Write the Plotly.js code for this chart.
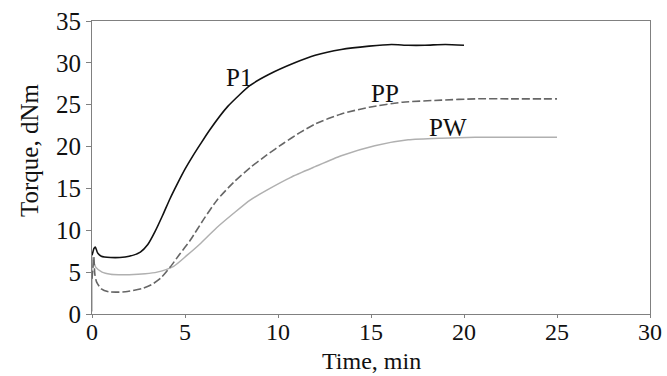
<!DOCTYPE html>
<html>
<head>
<meta charset="utf-8">
<script src="https://cdn.plot.ly/plotly-3.0.1.min.js"></script>
<style>html,body{margin:0;padding:0;background:#fff;}#chart{width:667px;height:376px;}</style>
</head>
<body>
<div id="chart"></div>
<script>
// Time (min) and torque (dNm)
const p1Time = [0, 0.05, 0.1, 0.18, 0.3, 0.5, 1.0, 1.5, 2.0, 2.6, 3.0, 3.4, 3.8, 4.2, 4.6, 5.0, 5.4, 5.8, 6.3, 7.3, 8.5, 9.5, 10.9, 12.0, 13.4, 14.9, 16.1, 17.0, 17.9, 19.0, 20.0];
const p1Torque = [7.0, 7.4, 7.8, 8.0, 7.3, 6.9, 6.75, 6.75, 6.9, 7.4, 8.3, 9.9, 11.8, 13.8, 15.6, 17.3, 18.8, 20.2, 21.9, 24.8, 27.3, 28.6, 30.0, 30.9, 31.6, 32.0, 32.2, 32.1, 32.1, 32.2, 32.1];

const ppTime = [0, 0.05, 0.1, 0.15, 0.25, 0.5, 0.9, 1.8, 2.7, 3.2, 3.7, 4.2, 4.7, 5.28, 6.0, 6.72, 7.6, 8.51, 9.4, 10.3, 11.2, 12.0, 13.4, 14.9, 16.7, 18.8, 20.6, 22.5, 25.0];
const ppTorque = [4.2, 5.5, 6.8, 4.8, 3.8, 3.0, 2.65, 2.65, 3.05, 3.5, 4.3, 5.6, 7.1, 8.8, 11.3, 13.6, 15.7, 17.5, 19.0, 20.4, 21.7, 22.7, 23.9, 24.7, 25.3, 25.55, 25.7, 25.7, 25.7];

const pwTime = [0, 0.03, 0.1, 0.2, 0.54, 1.0, 1.43, 2.0, 2.86, 3.5, 4.39, 5.1, 5.82, 6.7, 7.6, 8.5, 9.4, 10.66, 12.0, 13.4, 15.2, 17.0, 18.8, 20.6, 22.5, 25.0];
const pwTorque = [0.3, 6.8, 6.2, 5.6, 5.0, 4.75, 4.7, 4.7, 4.8, 5.0, 5.7, 7.0, 8.4, 10.3, 12.0, 13.6, 14.8, 16.3, 17.6, 18.9, 20.1, 20.8, 21.0, 21.1, 21.1, 21.1];

const seriesNames = ['P1', 'PP', 'PW'];
const labelX = [7.92, 15.77, 19.16];
const labelY = [28.3, 26.3, 22.3];
const xTickVals = [0, 5, 10, 15, 20, 25, 30];
const xTickText = ['0', '5', '10', '15', '20', '25', '30'];
const yTickVals = [0, 5, 10, 15, 20, 25, 30, 35];
const xTitle = 'Time, min';
const yTitle = 'Torque, dNm';

const font = 'Liberation Serif';

const traces = [
  {x: pwTime, y: pwTorque, name: 'PW', mode: 'lines', line: {color: '#b0b0b0', width: 1.5, shape: 'spline', smoothing: 0.6}},
  {x: ppTime, y: ppTorque, name: 'PP', mode: 'lines', line: {color: '#666666', width: 1.6, dash: '8px,3px', shape: 'spline', smoothing: 0.6}},
  {x: p1Time, y: p1Torque, name: 'P1', mode: 'lines', line: {color: '#111111', width: 1.6, shape: 'spline', smoothing: 0.6}}
];

const annotations = seriesNames.map((n, i) => ({
  x: labelX[i], y: labelY[i], xref: 'x', yref: 'y', text: n, showarrow: false,
  font: {family: font, size: 25, color: '#111'}
}));
xTickVals.forEach((v, i) => annotations.push({
  x: v, y: 0, xref: 'x', yref: 'paper', xanchor: 'center', yanchor: 'middle', yshift: -18,
  text: xTickText[i], showarrow: false, borderpad: 0, font: {family: font, size: 24, color: '#111'}
}));
annotations.push({
  x: 0.5, y: -0.162, xref: 'paper', yref: 'paper', xanchor: 'center', yanchor: 'middle',
  text: xTitle, showarrow: false, borderpad: 0, font: {family: font, size: 24, color: '#111'}
});
annotations.push({
  x: -0.111, y: 0.56, xref: 'paper', yref: 'paper', xanchor: 'center', yanchor: 'middle',
  text: yTitle, textangle: -90, showarrow: false, font: {family: font, size: 25, color: '#111'}
});

const layout = {
  width: 667, height: 376,
  margin: {l: 92, r: 17, t: 21, b: 62},
  paper_bgcolor: '#ffffff', plot_bgcolor: '#ffffff',
  showlegend: false,
  font: {family: font, size: 24, color: '#111'},
  xaxis: {
    range: [0, 30], tickvals: xTickVals, ticks: 'outside', ticklen: 3, showticklabels: false,
    tickcolor: '#808080', showline: true, linecolor: '#808080', linewidth: 1, mirror: true,
    showgrid: false, zeroline: false
  },
  yaxis: {
    range: [0, 35], tickvals: yTickVals, ticks: 'outside', ticklen: 5,
    tickcolor: '#808080', showline: true, linecolor: '#808080', linewidth: 1, mirror: true,
    showgrid: false, zeroline: false, tickfont: {family: font, size: 25, color: '#111'}
  },
  annotations: annotations
};

Plotly.newPlot('chart', traces, layout, {staticPlot: true, displayModeBar: false});
</script>
</body>
</html>
